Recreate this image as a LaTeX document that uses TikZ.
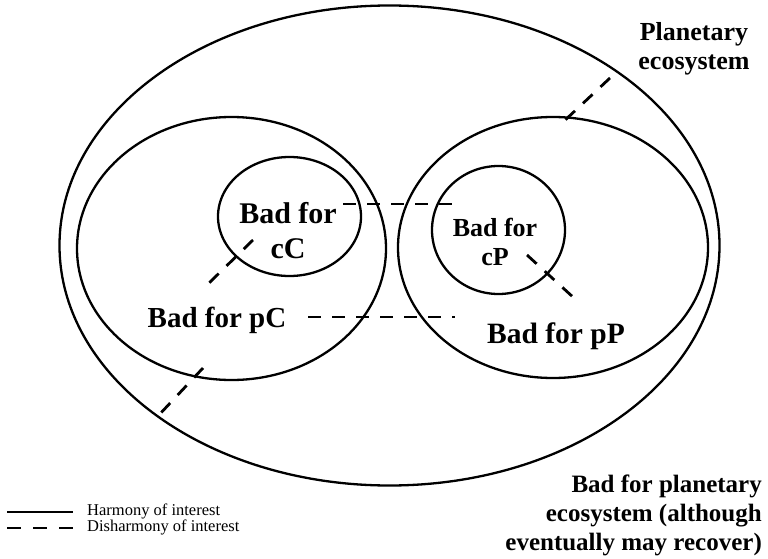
\documentclass[tikz,border=0pt]{standalone}
\usepackage{fontspec}
\setmainfont{Liberation Serif}
\usetikzlibrary{shapes.geometric}
\tikzstyle{region} = [draw, ellipse, line width=2.3pt, inner sep=0pt]
\tikzstyle{clash} = [line width=2.8pt, dash pattern=on 13pt off 11pt]
\tikzstyle{zonetext} = [align=center, inner sep=0pt]
\newcommand{\zonefont}[2]{\fontsize{#1}{#2}\selectfont\bfseries}

\begin{document}
\begin{tikzpicture}[x=1pt,y=-1pt]
    \useasboundingbox (0,0) rectangle (768,559);
    % regions
    \node[region, minimum width=660pt, minimum height=480pt] (planet) at (389.5,245.5) {};
    \node[region, minimum width=309pt, minimum height=263pt] (pC) at (231.5,248.5) {};
    \node[region, minimum width=310pt, minimum height=261pt] (pP) at (553,247.5) {};
    \node[region, minimum width=143pt, minimum height=119pt] (cC) at (289.5,216.5) {};
    \node[region, minimum width=133pt, minimum height=128pt] (cP) at (498.5,230) {};
    % texts
    \node[zonetext, font=\zonefont{30}{35}] (cCtext) at (288,231) {Bad for\\cC};
    \node[zonetext, font=\zonefont{26}{29}] (cPtext) at (495,242) {Bad for\\cP};
    \node[zonetext, font=\zonefont{29}{34}] (pCtext) at (217,320) {Bad for pC};
    \node[zonetext, font=\zonefont{29.5}{34}] (pPtext) at (556,336) {Bad for pP};
    \node[zonetext, font=\zonefont{26}{29}] (planettext) at (694,49) {Planetary\\ecosystem};
    \node[zonetext, align=right, anchor=east, font=\zonefont{25}{29}] (badtext) at (762,515)
      {Bad for planetary\\ecosystem (although\\eventually may recover)};
    % disharmony lines
    \coordinate (cCpCa) at (253,240);
    \coordinate (cCpCb) at (207,285);
    \coordinate (pCplaneta) at (203,368);
    \coordinate (pCplanetb) at (158,416);
    \coordinate (pPplaneta) at (610,78);
    \coordinate (pPplanetb) at (562,123);
    \coordinate (cPpPa) at (527,255);
    \coordinate (cPpPb) at (574,298);
    \coordinate (cCcPa) at (343,204);
    \coordinate (cCcPb) at (461,204);
    \coordinate (pCpPa) at (308,317);
    \coordinate (pCpPb) at (455,317);
    \draw[clash] (cCpCa) -- (cCpCb);
    \draw[clash] (pCplaneta) -- (pCplanetb);
    \draw[clash] (pPplaneta) -- (pPplanetb);
    \draw[clash] (cPpPa) -- (cPpPb);
    \draw[clash] (cCcPa) -- (cCcPb);
    \draw[clash] (pCpPa) -- (pCpPb);
    % legend
    \coordinate (harmonya) at (7,512);
    \coordinate (harmonyb) at (73,512);
    \coordinate (disharmonya) at (7,528);
    \coordinate (disharmonyb) at (73,528);
    \draw[line width=2.8pt] (harmonya) -- (harmonyb);
    \draw[clash, dash pattern=on 14pt off 12pt] (disharmonya) -- (disharmonyb);
    \node[anchor=west, inner sep=0pt, font=\fontsize{16.5}{16.5}\selectfont] (harmonytext) at (87,511) {Harmony of interest};
    \node[anchor=west, inner sep=0pt, font=\fontsize{16.5}{16.5}\selectfont] (disharmonytext) at (87,527) {Disharmony of interest};
  \end{tikzpicture}
\end{document}
